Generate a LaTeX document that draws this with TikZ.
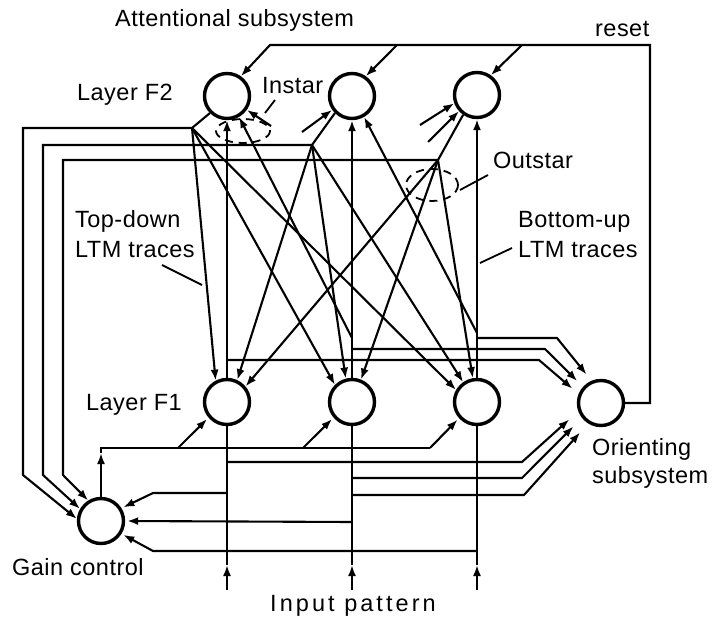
\documentclass[tikz,border=0pt]{standalone}
\usepackage{fontspec}
\setmainfont{Liberation Sans}[LetterSpace=2]
\newfontfamily\widefont[LetterSpace=13]{Liberation Sans}
\usetikzlibrary{arrows.meta}
\begin{document}
\begin{tikzpicture}[x=1pt,y=-1pt,
  neuron/.style={circle,draw,line width=3.4pt,minimum size=45pt,inner sep=0pt},
  wire/.style={line width=2.1pt,line join=miter},
  arr/.style={wire,-{Latex[length=11pt,width=8pt]}},
  lbl/.style={inner sep=0pt,anchor=base west,font=\fontsize{23.5}{28}\selectfont},
  leader/.style={line width=1.8pt},
  marker/.style={line width=1.8pt,dash pattern=on 8pt off 6pt}]
\useasboundingbox (0,0) rectangle (712,618);
% neurons
\node[neuron] (F2a) at (227,96) {};
\node[neuron] (F2b) at (352,96) {};
\node[neuron] (F2c) at (477,95) {};
\node[neuron] (F1a) at (227,402) {};
\node[neuron] (F1b) at (352,402) {};
\node[neuron] (F1c) at (477,402) {};
\node[neuron] (ori) at (601,403) {};
\node[neuron] (gc) at (101,521) {};
% labels
\node[lbl] (tAtt) at (115,27) {Attentional subsystem};
\node[lbl] (tReset) at (595,37) {reset};
\node[lbl] (tF2) at (77,100) {Layer F2};
\node[lbl] (tInstar) at (262,93) {Instar};
\node[lbl] (tOutstar) at (493,168) {Outstar};
\node[lbl] (tTD1) at (75,227) {Top-down};
\node[lbl] (tTD2) at (75,257) {LTM traces};
\node[lbl] (tBU1) at (518,227) {Bottom-up};
\node[lbl] (tBU2) at (518,257) {LTM traces};
\node[lbl] (tF1) at (86,410) {Layer F1};
\node[lbl] (tGain) at (12,575) {Gain control};
\node[lbl,font=\fontsize{23.5}{28}\widefont] (tInput) at (270,611) {Input pattern};
\node[lbl] (tOri1) at (592,455) {Orienting};
\node[lbl] (tOri2) at (592,483) {subsystem};
% coordinates
\coordinate (hA) at (192,128);
\coordinate (hB) at (312,145);
\coordinate (hC) at (438,160);
\coordinate (rs) at (650,45);
\coordinate (r1) at (270,45);
\coordinate (r2) at (397,45);
\coordinate (r3) at (522,45);
% reset
\draw[arr] (ori.east) -| (rs) -- (r1) -- (F2a.55);
\draw[arr] (r2) -- (F2b.55);
\draw[arr] (r3) -- (F2c.55);
% F2 outputs to hubs and to gain control
\draw[arr] (F2a.225) -- (hA) -- (23,128) -- (23,475) -- (gc.175);
\draw[arr] (F2b.225) -- (hB) -- (43,145) -- (43,475) -- (gc.150);
\draw[arr] (F2c.235) -- (hC) -- (63,160) -- (63,475) -- (gc.122);
% top-down fans
\draw[arr] (hA) -- (F1a.118);
\draw[arr] (hA) -- (F1b.135);
\draw[arr] (hA) -- (F1c.150);
\draw[arr] (hB) -- (F1a.65);
\draw[arr] (hB) -- (F1b.105);
\draw[arr] (hB) -- (F1c.125);
\draw[arr] (hC) -- (F1a.40);
\draw[arr] (hC) -- (F1b.68);
\draw[arr] (hC) -- (F1c.100);
% bottom-up
\draw[arr] (F1a.north) -- (F2a.south);
\draw[arr] (F1b.north) -- (F2b.south);
\draw[arr] (F1c.north) -- (F2c.south);
\coordinate (bB) at (352,338);
\coordinate (bC) at (477,333);
\draw[arr] (bB) -- (F2a.-60);
\draw[arr] (bC) -- (F2b.-60);
% stubs
\coordinate (sA) at (271,126);
\coordinate (sB) at (302,132);
\coordinate (sC1) at (420,125);
\coordinate (sC2) at (428,142);
\draw[arr] (sA) -- (F2a.-35);
\draw[arr] (sB) -- (F2b.215);
\draw[arr] (sC1) -- (F2c.200);
\draw[arr] (sC2) -- (F2c.222);
% F1 to orienting
\draw[arr,shorten >=8pt] (227,360) -- (539,360) -- (ori.158);
\draw[arr,shorten >=8pt] (352,349) -- (545,349) -- (ori.138);
\draw[arr,shorten >=8pt] (477,338) -- (557,338) -- (ori.113);
% input lines
\coordinate (in1) at (227,590);
\coordinate (in2) at (352,590);
\coordinate (in3) at (477,590);
\coordinate (ia1) at (227,565);
\coordinate (ia2) at (352,565);
\coordinate (ia3) at (477,565);
\draw[arr] (in1) -- (ia1);
\draw[arr] (in2) -- (ia2);
\draw[arr] (in3) -- (ia3);
\draw[wire] (ia1) -- (F1a.south);
\draw[wire] (ia2) -- (F1b.south);
\draw[wire] (ia3) -- (F1c.south);
% input to orienting
\draw[arr,shorten >=12pt] (227,462) -- (522,462) -- (ori.200);
\draw[arr,shorten >=12pt] (352,478) -- (522,478) -- (ori.218);
\draw[arr,shorten >=12pt] (352,495) -- (524,495) -- (ori.238);
% input to gain control
\draw[arr,shorten >=2pt] (227,493) -- (153,493) -- (gc.32);
\draw[arr,shorten >=2pt] (352,522) -- (gc.east);
\draw[arr,shorten >=2pt] (477,551) -- (153,551) -- (gc.-32);
% gain control output
\coordinate (gu) at (101,453);
\draw[arr] (gc.north) -- (gu);
\draw[wire] (gu) -- (101,448) -- (430,448);
\draw[arr,shorten >=2pt] (178,448) -- (F1a.220);
\draw[arr,shorten >=2pt] (303,448) -- (F1b.220);
\draw[arr,shorten >=2pt] (430,448) -- (F1c.222);
% leaders
\draw[leader] (275,100) -- (265,113);
\draw[leader] (162,265) -- (202,285);
\draw[leader] (512,248) -- (480,263);
\draw[leader] (488,175) -- (460,190);
% instar / outstar markers
\draw[marker] (243,131) ellipse [x radius=27, y radius=12];
\draw[marker] (432,185) ellipse [x radius=26, y radius=16];
\end{tikzpicture}
\end{document}
